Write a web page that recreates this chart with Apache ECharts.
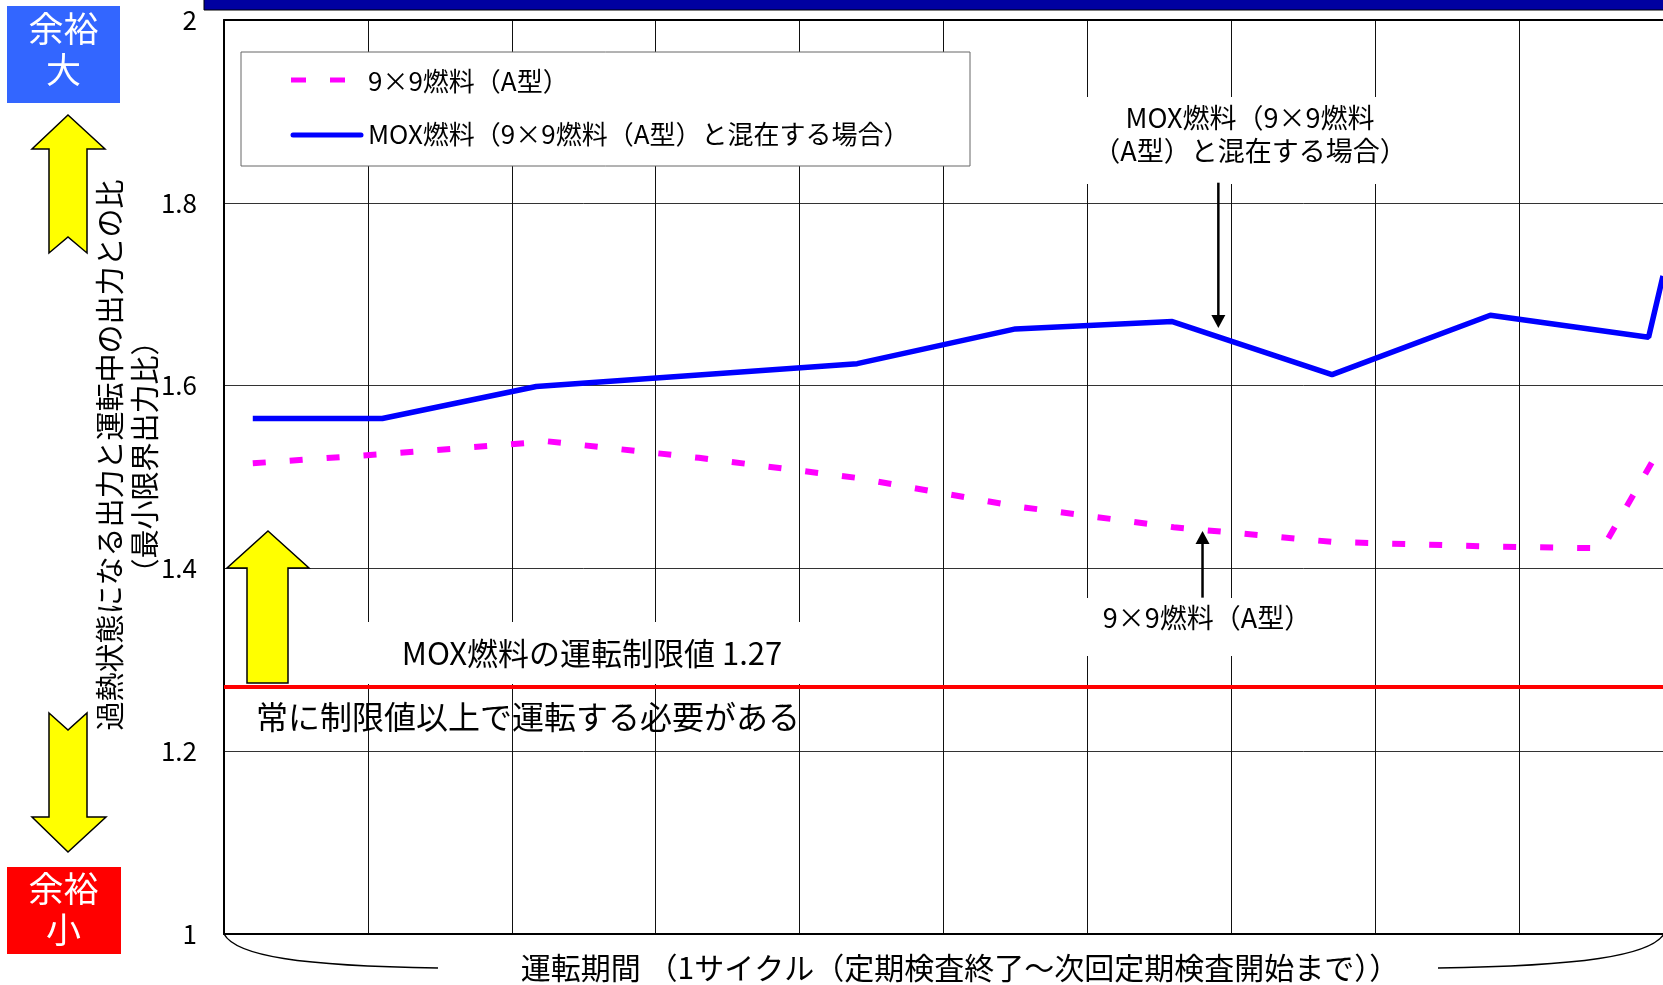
<!DOCTYPE html>
<html>
<head>
<meta charset="utf-8">
<script src="https://cdn.jsdelivr.net/npm/echarts@6/dist/echarts.min.js"></script>
<style>
  html, body { margin: 0; padding: 0; background: #fff; }
  #chart { width: 1663px; height: 985px; }
</style>
</head>
<body>
<div id="chart"></div>
<script>
// Minimum critical power ratio over one operating cycle
const FONT = '"Noto Sans CJK JP", "Noto Sans", sans-serif';

const seriesNames = ['9×9燃料（A型）', 'MOX燃料（9×9燃料（A型）と混在する場合）'];

// 9x9 fuel (type A): position within the cycle (grid columns) and ratio
const cycle9x9 = [0.2, 1.1, 2.25, 3.3, 4.4, 5.5, 6.6, 7.7, 8.8, 9.58, 10.0];
const ratio9x9 = [1.515, 1.525, 1.539, 1.521, 1.499, 1.468, 1.445, 1.429, 1.424, 1.422, 1.537];

// MOX fuel mixed with 9x9 fuel (type A)
const cycleMox = [0.2, 1.1, 2.17, 4.4, 5.5, 6.59, 7.7, 8.8, 9.9, 10.0];
const ratioMox = [1.564, 1.564, 1.599, 1.624, 1.662, 1.670, 1.612, 1.677, 1.653, 1.72];

// Operating limit for MOX fuel
const LIMIT = 1.27;

// Axis ticks
const yMin = 1, yMax = 2, yStep = 0.2;
const xMin = 0, xMax = 10, xStep = 1;

// Text
const yTitle1 = '過熱状態になる出力と運転中の出力との比';
const yTitle2 = '（最小限界出力比）';
const xTitle = '運転期間 （1サイクル（定期検査終了～次回定期検査開始まで））';
const limitText = 'MOX燃料の運転制限値 ' + LIMIT;
const limitNote = '常に制限値以上で運転する必要がある';
const annotMox = 'MOX燃料（9×9燃料\n（A型）と混在する場合）';
const annot9x9 = '9×9燃料（A型）';
const marginLarge = '余裕\n大';
const marginSmall = '余裕\n小';

// Annotation arrows in data coordinates: [x, yTail, yTip]
const arrowMox = [6.91, 1.822, 1.663];
const arrow9x9 = [6.80, 1.368, 1.441];

const zip = (xs, ys) => xs.map((x, i) => [x, ys[i]]);

const chart = echarts.init(document.getElementById('chart'), null, { renderer: 'canvas' });

const option = {
  animation: false,
  backgroundColor: '#fff',
  grid: { left: 224, top: 20, width: 1444, height: 914, containLabel: false },
  xAxis: [
    {
      type: 'value', min: xMin, max: xMax, interval: xStep, position: 'bottom',
      axisLine: { show: true, onZero: false, lineStyle: { color: '#000', width: 2 } },
      axisTick: { show: false }, axisLabel: { show: false },
      splitLine: { show: true, lineStyle: { color: '#111', width: 1 } }
    },
    {
      type: 'value', min: xMin, max: xMax, position: 'top',
      axisLine: { show: true, onZero: false, lineStyle: { color: '#000', width: 2 } },
      axisTick: { show: false }, axisLabel: { show: false }, splitLine: { show: false }
    }
  ],
  yAxis: {
    type: 'value', min: yMin, max: yMax, interval: yStep,
    axisLine: { show: true, onZero: false, lineStyle: { color: '#000', width: 2 } },
    axisTick: { show: false },
    axisLabel: { margin: 27, fontSize: 26, color: '#000', fontFamily: FONT },
    splitLine: { show: true, lineStyle: { color: '#333', width: 1 } }
  },
  series: [
    {
      type: 'line', name: seriesNames[0], data: zip(cycle9x9, ratio9x9),
      symbol: 'none', z: 3,
      lineStyle: { color: '#ff00ff', width: 6, type: [13, 24] }
    },
    {
      type: 'line', name: seriesNames[1], data: zip(cycleMox, ratioMox),
      symbol: 'none', z: 3,
      lineStyle: { color: '#0000ff', width: 5.5 },
      markLine: {
        silent: true, symbol: ['none', 'none'], label: { show: false },
        lineStyle: { color: '#ff0000', width: 4, type: 'solid' },
        data: [{ yAxis: LIMIT }]
      }
    }
  ]
};

chart.setOption(option);

const px = (x, y) => chart.convertToPixel({ gridIndex: 0 }, [x, y]);

function arrowElems(spec) {
  const tail = px(spec[0], spec[1]);
  const tip = px(spec[0], spec[2]);
  const dir = tip[1] > tail[1] ? 1 : -1;
  const headLen = 13, headHalf = 7;
  return [
    { type: 'line', z: 6, shape: { x1: tail[0], y1: tail[1], x2: tip[0], y2: tip[1] - dir * headLen },
      style: { stroke: '#000', lineWidth: 2.5 } },
    { type: 'polygon', z: 6,
      shape: { points: [[tip[0] - headHalf, tip[1] - dir * headLen], [tip[0] + headHalf, tip[1] - dir * headLen], [tip[0], tip[1]]] },
      style: { fill: '#000' } }
  ];
}

const yellow = { fill: '#ffff00', stroke: '#000', lineWidth: 1.5 };
const textBase = { fill: '#000', fontFamily: FONT };

const graphics = [
  // top band
  { type: 'rect', z: 6, shape: { x: 204, y: -1, width: 1470, height: 11 }, style: { fill: '#0000a0', stroke: '#000', lineWidth: 1 } },

  // margin boxes
  { type: 'rect', z: 6, shape: { x: 7, y: 6, width: 113, height: 97 }, style: { fill: '#3366ff' } },
  { type: 'text', z: 7, x: 63.5, y: 49, style: { text: marginLarge, fill: '#fff', fontFamily: FONT, fontSize: 35, lineHeight: 41, align: 'center', verticalAlign: 'middle' } },
  { type: 'rect', z: 6, shape: { x: 7, y: 867, width: 114, height: 87 }, style: { fill: '#ff0000' } },
  { type: 'text', z: 7, x: 63.5, y: 909, style: { text: marginSmall, fill: '#fff', fontFamily: FONT, fontSize: 35, lineHeight: 41, align: 'center', verticalAlign: 'middle' } },

  // big yellow arrows
  { type: 'polygon', z: 6, shape: { points: [[68, 115], [105, 149], [87, 149], [87, 253], [68, 237], [49, 253], [49, 149], [32, 149]] }, style: yellow },
  { type: 'polygon', z: 6, shape: { points: [[49, 713], [68, 730], [87, 713], [87, 817], [106, 817], [68, 852], [32, 817], [49, 817]] }, style: yellow },
  { type: 'polygon', z: 6, shape: { points: [[268, 531], [309, 568], [288, 568], [288, 683], [247, 683], [247, 568], [227, 568]] }, style: yellow },

  // y axis title
  { type: 'text', z: 7, x: 110, y: 455, rotation: Math.PI / 2,
    style: Object.assign({ text: yTitle1, fontSize: 29, align: 'center', verticalAlign: 'middle' }, textBase) },
  { type: 'text', z: 7, x: 145, y: 457, rotation: Math.PI / 2,
    style: Object.assign({ text: yTitle2, fontSize: 29, align: 'center', verticalAlign: 'middle' }, textBase) },

  // legend
  { type: 'rect', z: 5, shape: { x: 241, y: 52, width: 729, height: 114 }, style: { fill: '#fff', stroke: '#666', lineWidth: 1 } },
  { type: 'line', z: 6, shape: { x1: 291, y1: 80, x2: 345, y2: 80 }, style: { stroke: '#ff00ff', lineWidth: 5, lineDash: [15, 24] } },
  { type: 'text', z: 6, x: 368, y: 81, style: Object.assign({ text: seriesNames[0], fontSize: 26, verticalAlign: 'middle' }, textBase) },
  { type: 'line', z: 6, shape: { x1: 293, y1: 135, x2: 361, y2: 135 }, style: { stroke: '#0000ff', lineWidth: 5, lineCap: 'round' } },
  { type: 'text', z: 6, x: 368, y: 134, style: Object.assign({ text: seriesNames[1], fontSize: 26, verticalAlign: 'middle' }, textBase) },

  // annotations
  { type: 'rect', z: 1, shape: { x: 1086, y: 97, width: 298, height: 87 }, style: { fill: '#fff' } },
  { type: 'text', z: 6, x: 1250, y: 134, style: Object.assign({ text: annotMox, fontSize: 27, lineHeight: 33, align: 'center', verticalAlign: 'middle' }, textBase) },
  { type: 'rect', z: 1, shape: { x: 1084, y: 598, width: 246, height: 58 }, style: { fill: '#fff' } },
  { type: 'text', z: 6, x: 1207, y: 618, style: Object.assign({ text: annot9x9, fontSize: 27, align: 'center', verticalAlign: 'middle' }, textBase) },

  { type: 'rect', z: 1, shape: { x: 332, y: 622, width: 521, height: 62 }, style: { fill: '#fff' } },
  { type: 'text', z: 6, x: 592, y: 653, style: Object.assign({ text: limitText, fontSize: 31, align: 'center', verticalAlign: 'middle' }, textBase) },
  { type: 'text', z: 6, x: 256, y: 717, style: Object.assign({ text: limitNote, fontSize: 32, verticalAlign: 'middle' }, textBase) },

  // cycle brace and x title
  { type: 'bezierCurve', z: 6, shape: { x1: 224, y1: 934, cpx1: 236, cpy1: 956, cpx2: 300, cpy2: 966, x2: 438, y2: 968 }, style: { stroke: '#000', lineWidth: 1.5, fill: null } },
  { type: 'bezierCurve', z: 6, shape: { x1: 1438, y1: 968, cpx1: 1580, cpy1: 966, cpx2: 1650, cpy2: 956, x2: 1664, y2: 934 }, style: { stroke: '#000', lineWidth: 1.5, fill: null } },
  { type: 'text', z: 6, x: 960, y: 968, style: Object.assign({ text: xTitle, fontSize: 30, align: 'center', verticalAlign: 'middle' }, textBase) }
].concat(arrowElems(arrowMox), arrowElems(arrow9x9));

chart.setOption({ graphic: { elements: graphics } });
</script>
</body>
</html>
